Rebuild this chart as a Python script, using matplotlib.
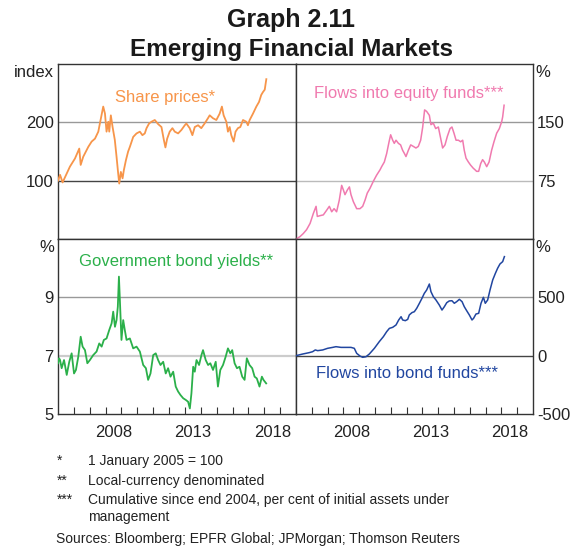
"""
Graph 2.11 - Emerging Financial Markets (four panel chart)
"""

import matplotlib
matplotlib.use('Agg')
import matplotlib.pyplot as plt

plt.rcParams['font.family'] = ['Liberation Sans', 'DejaVu Sans']
plt.rcParams['axes.unicode_minus'] = False

# ---- data (decimal years) ----
share_t = [2005.0, 2005.13, 2005.29, 2005.75, 2006.07, 2006.34, 2006.43, 2006.59,
           2006.91, 2007.12, 2007.33, 2007.54, 2007.64, 2007.85, 2007.96, 2008.06,
           2008.17, 2008.23, 2008.33, 2008.44, 2008.58, 2008.69, 2008.79, 2008.86,
           2008.96, 2009.07, 2009.15, 2009.28, 2009.42, 2009.53, 2009.74, 2009.95,
           2010.16, 2010.32, 2010.47, 2010.58, 2010.74, 2010.89, 2011.10, 2011.31,
           2011.52, 2011.67, 2011.77, 2011.88, 2012.04, 2012.21, 2012.36, 2012.57,
           2012.78, 2012.99, 2013.09, 2013.30, 2013.47, 2013.62, 2013.83, 2014.03,
           2014.24, 2014.45, 2014.56, 2014.77, 2014.98, 2015.19, 2015.33, 2015.44,
           2015.61, 2015.71, 2015.82, 2015.92, 2016.07, 2016.19, 2016.34, 2016.49,
           2016.66, 2016.87, 2016.97, 2017.08, 2017.29, 2017.50, 2017.67, 2017.81,
           2017.92, 2018.03, 2018.09, 2018.13]
share_idx = [100, 110, 97, 124, 138, 155, 127, 141,
             158, 167, 172, 184, 198, 227, 215, 184,
             201, 184, 212, 192, 170, 141, 113, 95,
             115, 104, 118, 135, 150, 158, 175, 181,
             184, 178, 181, 190, 198, 201, 204, 197,
             192, 170, 157, 172, 184, 190, 184, 181,
             187, 195, 198, 190, 178, 192, 195, 190,
             198, 207, 212, 207, 204, 215, 227, 212,
             201, 184, 192, 178, 167, 184, 190, 192,
             204, 201, 195, 204, 215, 227, 235, 247,
             252, 256, 267, 274]

equity_t = [2005.0, 2005.25, 2005.46, 2005.67, 2005.89, 2006.10, 2006.27, 2006.35,
            2006.52, 2006.73, 2006.94, 2007.11, 2007.26, 2007.41, 2007.57, 2007.74,
            2007.89, 2008.0, 2008.10, 2008.25, 2008.38, 2008.48, 2008.63, 2008.84,
            2009.05, 2009.22, 2009.37, 2009.51, 2009.68, 2009.89, 2010.10, 2010.32,
            2010.42, 2010.59, 2010.74, 2010.89, 2010.99, 2011.12, 2011.22, 2011.33,
            2011.48, 2011.62, 2011.75, 2011.86, 2011.96, 2012.11, 2012.26, 2012.43,
            2012.59, 2012.74, 2012.89, 2013.02, 2013.14, 2013.27, 2013.44, 2013.54,
            2013.69, 2013.84, 2014.01, 2014.16, 2014.28, 2014.43, 2014.58, 2014.75,
            2014.87, 2015.0, 2015.13, 2015.28, 2015.42, 2015.55, 2015.65, 2015.76,
            2015.91, 2016.05, 2016.22, 2016.33, 2016.43, 2016.56, 2016.69, 2016.81,
            2016.92, 2017.07, 2017.22, 2017.38, 2017.53, 2017.70, 2017.87, 2018.02,
            2018.08, 2018.17]
equity_pct = [0, 3, 7, 12, 20, 33, 42, 29,
              30, 31, 37, 42, 35, 39, 35, 50,
              69, 63, 57, 63, 67, 57, 48, 39,
              39, 42, 50, 59, 65, 74, 82, 89,
              93, 99, 110, 125, 134, 127, 123, 127,
              123, 121, 114, 110, 106, 114, 121, 119,
              117, 119, 127, 144, 166, 164, 159, 147,
              149, 142, 144, 129, 117, 121, 132, 142,
              144, 136, 127, 127, 125, 127, 114, 104,
              99, 95, 91, 89, 87, 87, 97, 102,
              99, 93, 99, 114, 125, 136, 142, 151,
              157, 172]

yield_t = [2005.0, 2005.07, 2005.13, 2005.23, 2005.38, 2005.55, 2005.71, 2005.86,
           2006.01, 2006.13, 2006.28, 2006.43, 2006.55, 2006.70, 2006.85, 2007.01,
           2007.22, 2007.43, 2007.60, 2007.75, 2007.89, 2008.06, 2008.23, 2008.38,
           2008.48, 2008.59, 2008.69, 2008.77, 2008.84, 2008.90, 2009.00, 2009.11,
           2009.21, 2009.32, 2009.53, 2009.74, 2009.95, 2010.16, 2010.37, 2010.54,
           2010.68, 2010.83, 2011.00, 2011.16, 2011.31, 2011.46, 2011.63, 2011.79,
           2011.94, 2012.09, 2012.26, 2012.42, 2012.57, 2012.72, 2012.89, 2013.06,
           2013.20, 2013.31, 2013.41, 2013.52, 2013.62, 2013.73, 2013.89, 2014.04,
           2014.14, 2014.31, 2014.46, 2014.60, 2014.77, 2014.94, 2015.08, 2015.23,
           2015.40, 2015.57, 2015.71, 2015.86, 2015.98, 2016.13, 2016.28, 2016.44,
           2016.61, 2016.76, 2016.90, 2017.07, 2017.24, 2017.39, 2017.53, 2017.70,
           2017.85, 2017.95, 2018.12]
yield_pct = [6.74, 6.91, 6.85, 6.57, 6.85, 6.34, 6.79, 7.08,
             6.39, 6.51, 6.97, 7.65, 7.31, 7.19, 6.74, 6.85,
             7.02, 7.14, 7.42, 7.31, 7.54, 7.59, 7.88, 8.11,
             8.51, 7.99, 8.22, 8.68, 9.71, 8.91, 7.54, 8.22,
             7.88, 7.54, 7.59, 7.25, 7.31, 7.14, 6.68, 6.57,
             6.17, 6.39, 7.02, 7.08, 6.85, 6.68, 6.79, 6.39,
             6.57, 6.28, 6.45, 5.94, 5.77, 5.65, 5.54, 5.48,
             5.42, 5.19, 5.71, 6.62, 6.45, 6.85, 6.68, 7.02,
             7.19, 6.85, 6.68, 6.74, 6.51, 6.79, 5.94, 6.51,
             6.68, 6.97, 7.25, 7.08, 7.19, 6.74, 6.57, 6.62,
             6.28, 6.17, 6.91, 6.68, 6.57, 6.28, 6.22, 5.94,
             6.28, 6.17, 6.05]

bond_t = [2005.0, 2005.42, 2005.84, 2006.05, 2006.22, 2006.37, 2006.69, 2007.00,
          2007.32, 2007.53, 2007.85, 2008.16, 2008.48, 2008.69, 2008.84, 2009.05,
          2009.22, 2009.43, 2009.64, 2009.96, 2010.27, 2010.53, 2010.74, 2010.91,
          2011.12, 2011.33, 2011.50, 2011.65, 2011.75, 2011.92, 2012.07, 2012.17,
          2012.34, 2012.49, 2012.64, 2012.81, 2012.97, 2013.12, 2013.27, 2013.44,
          2013.54, 2013.69, 2013.86, 2014.07, 2014.24, 2014.39, 2014.54, 2014.70,
          2014.87, 2015.02, 2015.17, 2015.34, 2015.51, 2015.65, 2015.80, 2015.97,
          2016.14, 2016.24, 2016.39, 2016.56, 2016.71, 2016.86, 2016.98, 2017.13,
          2017.28, 2017.45, 2017.62, 2017.76, 2017.91, 2018.08, 2018.19]
bond_pct = [0, 14, 26, 34, 49, 43, 49, 63,
            71, 77, 71, 71, 71, 63, 20, -3,
            -14, -9, 14, 63, 120, 163, 206, 234,
            243, 263, 306, 334, 306, 300, 311, 349,
            369, 377, 406, 449, 491, 534, 563, 614,
            549, 506, 477, 434, 391, 420, 454, 469,
            471, 449, 463, 483, 463, 420, 386, 349,
            306, 320, 357, 363, 449, 500, 449, 477,
            563, 649, 706, 749, 786, 806, 849]

year_ticks = list(range(2006, 2020))
year_labels = ['2008', '2013', '2018']

ORANGE = '#f7954a'
PINK = '#f07aaf'
GREEN = '#2bb04a'
BLUE = '#2146a0'
SPINE = '#333333'
TICK_FS = 12


def style_panel(ax, side, bottom):
    """Common frame / tick styling for one panel."""
    ax.set_xlim(2005, 2020)
    for sp in ax.spines.values():
        sp.set_color(SPINE)
        sp.set_linewidth(1.0)
    if side == 'right':
        ax.yaxis.tick_right()
    ax.tick_params(axis='y', length=0, labelsize=TICK_FS, pad=3, colors='#222222')
    if bottom:
        ax.set_xticks(year_ticks)
        ax.set_xticklabels([])
        ax.set_xticks([int(y) + 0.5 for y in year_labels], minor=True)
        ax.set_xticklabels(year_labels, minor=True)
        ax.tick_params(axis='x', which='major', direction='in', length=4.8,
                       width=0.8, color=SPINE)
        ax.tick_params(axis='x', which='minor', length=0, pad=8,
                       labelsize=TICK_FS, colors='#222222')
    else:
        ax.tick_params(axis='x', which='both', bottom=False, labelbottom=False)


def unit_label(ax, text, side):
    if side == 'left':
        ax.annotate(text, xy=(0, 1), xycoords='axes fraction', xytext=(-3, -1),
                    textcoords='offset points', ha='right', va='top',
                    fontsize=TICK_FS, color='#222222')
    else:
        ax.annotate(text, xy=(1, 1), xycoords='axes fraction', xytext=(2, -1),
                    textcoords='offset points', ha='left', va='top',
                    fontsize=TICK_FS, color='#222222')


fig = plt.figure(figsize=(5.82, 5.48), dpi=100)

L, W_L = 58 / 582, 238 / 582
R, W_R = 296 / 582, 237 / 582
TOP_Y, BOT_Y, H = 1 - 239 / 548, 1 - 414 / 548, 175 / 548

ax_share = fig.add_axes([L, TOP_Y, W_L, H])
ax_eq = fig.add_axes([R, TOP_Y, W_R, H])
ax_yield = fig.add_axes([L, BOT_Y, W_L, H])
ax_bond = fig.add_axes([R, BOT_Y, W_R, H])

# Share prices
ax_share.set_ylim(0, 300)
ax_share.axhline(200, color='#999999', lw=1.0, zorder=1)
ax_share.axhline(100, color='#444444', lw=1.0, zorder=1)
ax_share.plot(share_t, share_idx, color=ORANGE, lw=1.3, zorder=3)
ax_share.set_yticks([100, 200])
style_panel(ax_share, 'left', bottom=False)
unit_label(ax_share, 'index', 'left')
ax_share.text(0.448, 0.807, 'Share prices*', color=ORANGE, fontsize=12,
              ha='center', va='center', transform=ax_share.transAxes)

# Equity fund flows
ax_eq.set_ylim(0, 225)
ax_eq.axhline(150, color='#999999', lw=1.0, zorder=1)
ax_eq.axhline(75, color='#bbbbbb', lw=1.0, zorder=1)
ax_eq.plot(equity_t, equity_pct, color=PINK, lw=1.1, zorder=3)
ax_eq.set_yticks([75, 150])
style_panel(ax_eq, 'right', bottom=False)
unit_label(ax_eq, '%', 'right')
ax_eq.text(0.476, 0.833, 'Flows into equity funds***', color=PINK, fontsize=12,
           ha='center', va='center', transform=ax_eq.transAxes)

# Government bond yields
ax_yield.set_ylim(5, 11)
ax_yield.axhline(9, color='#999999', lw=1.0, zorder=1)
ax_yield.axhline(7, color='#cccccc', lw=1.6, zorder=1)
ax_yield.plot(yield_t, yield_pct, color=GREEN, lw=1.3, zorder=3)
ax_yield.set_yticks([5, 7, 9])
style_panel(ax_yield, 'left', bottom=True)
unit_label(ax_yield, '%', 'left')
ax_yield.text(0.4945, 0.870, 'Government bond yields**', color=GREEN, fontsize=12,
              ha='center', va='center', transform=ax_yield.transAxes)

# Bond fund flows
ax_bond.set_ylim(-500, 1000)
ax_bond.axhline(500, color='#999999', lw=1.0, zorder=1)
ax_bond.axhline(0, color='#444444', lw=1.0, zorder=1)
ax_bond.plot(bond_t, bond_pct, color=BLUE, lw=1.1, zorder=3)
ax_bond.set_yticks([-500, 0, 500])
style_panel(ax_bond, 'right', bottom=True)
unit_label(ax_bond, '%', 'right')
ax_bond.text(0.470, 0.233, 'Flows into bond funds***', color=BLUE, fontsize=12,
             ha='center', va='center', transform=ax_bond.transAxes)

# Titles
fig.text(0.5, 1 - 26.7 / 548, 'Graph 2.11', ha='center', va='baseline',
         fontsize=18, fontweight='bold', color='#1a1a1a')
fig.text(0.5, 1 - 55.7 / 548, 'Emerging Financial Markets', ha='center',
         va='baseline', fontsize=17.5, fontweight='bold', color='#1a1a1a')

# Footnotes
notes = [('*', '1 January 2005 = 100', 460.7),
         ('**', 'Local-currency denominated', 480.7),
         ('***', 'Cumulative since end 2004, per cent of initial assets under', 500.0),
         ('', 'management', 517.3)]
for mark, txt, ypx in notes:
    if mark:
        fig.text(57 / 582, 1 - ypx / 548, mark, ha='left', va='center',
                 fontsize=10, color='#222222')
    fig.text(88 / 582, 1 - ypx / 548, txt, ha='left', va='center',
             fontsize=10, color='#222222')
fig.text(56 / 582, 1 - 538.7 / 548,
         'Sources: Bloomberg; EPFR Global; JPMorgan; Thomson Reuters',
         ha='left', va='center', fontsize=10, color='#222222')

fig.savefig('out.png', dpi=100)
